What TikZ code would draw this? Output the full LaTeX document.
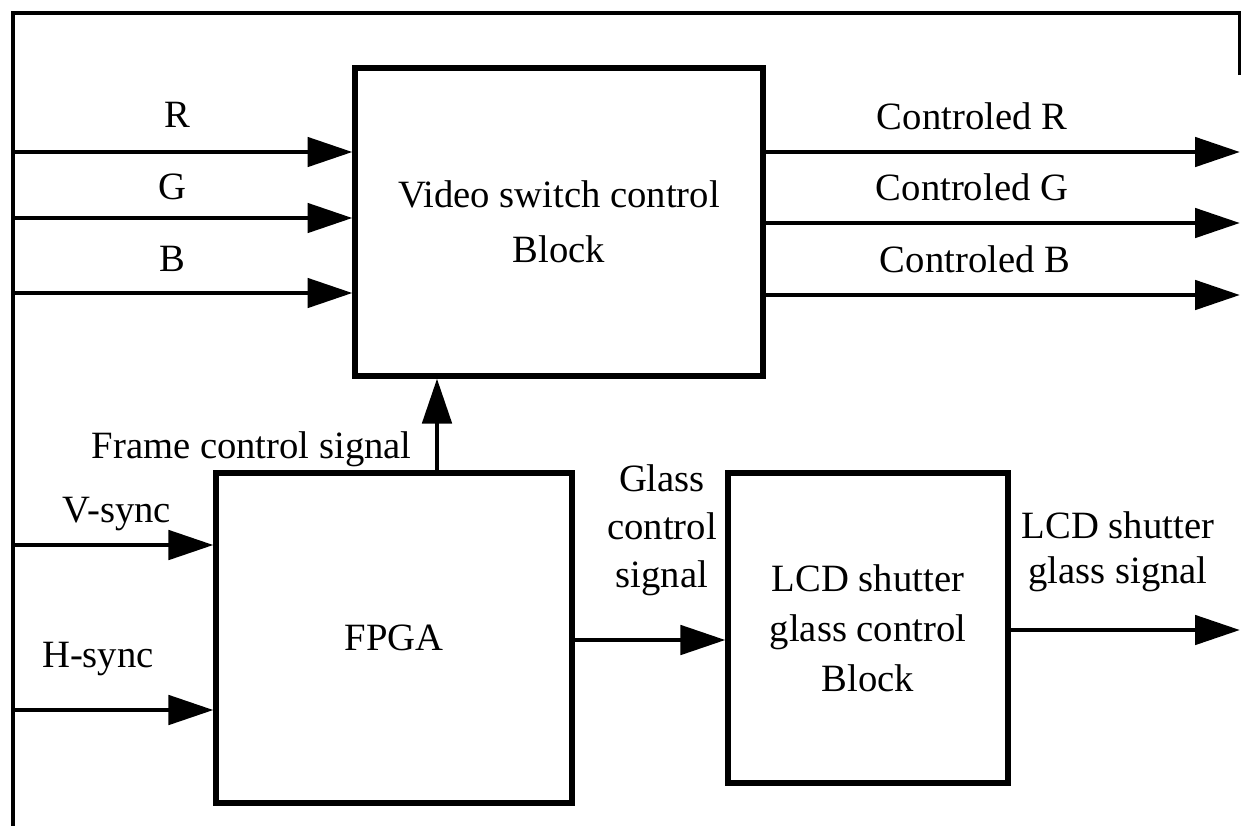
\documentclass[tikz,border=0pt]{standalone}
\usepackage{fontspec}
\setmainfont{Liberation Serif}
\usetikzlibrary{arrows.meta}
\begin{document}
\begin{tikzpicture}[x=0.02cm,y=-0.02cm,
  wire/.style={line width=2.8pt},
  sig/.style={wire,-{Triangle[length=0.9cm,width=0.58cm]}},
  blockbox/.style={draw,line width=2.9pt,inner sep=0pt,align=center},
  lbl/.style={inner sep=0pt,font=\fontsize{22}{26}\selectfont}]
\useasboundingbox (0,0) rectangle (1241,826);

% processing blocks
\node[blockbox,minimum width=8.16cm,minimum height=6.16cm,
      font=\fontsize{22}{31}\selectfont] (vs) at (559,222) {Video switch control\\Block};
\node[blockbox,minimum width=7.12cm,minimum height=6.6cm,
      font=\fontsize{22}{26}\selectfont] (fpga) at (394,638) {FPGA};
\node[blockbox,minimum width=5.6cm,minimum height=6.2cm,
      font=\fontsize{22}{28.5}\selectfont] (lcd) at (868,628) {LCD shutter\\glass control\\Block};

% outer frame
\coordinate (tl) at (13,13);
\coordinate (tr) at (1240,13);
\coordinate (rb) at (1240,75);
\coordinate (bl) at (13,826);
\draw[wire] (rb) -- (tr) -- (tl) -- (bl);

% video inputs
\coordinate (rin) at (13,152);
\coordinate (gin) at (13,218);
\coordinate (bin) at (13,293);
\draw[sig] (rin) -- (rin -| vs.west);
\draw[sig] (gin) -- (gin -| vs.west);
\draw[sig] (bin) -- (bin -| vs.west);

% video outputs
\coordinate (rout) at (1240,152);
\coordinate (gout) at (1240,223);
\coordinate (bout) at (1240,295);
\draw[sig] (vs.east |- rout) -- (rout);
\draw[sig] (vs.east |- gout) -- (gout);
\draw[sig] (vs.east |- bout) -- (bout);

% sync inputs
\coordinate (vin) at (13,545);
\coordinate (hin) at (13,710);
\draw[sig] (vin) -- (vin -| fpga.west);
\draw[sig] (hin) -- (hin -| fpga.west);

% control paths
\coordinate (fc) at (437,473);
\draw[sig] (fpga.north -| fc) -- (vs.south -| fc);
\coordinate (gl) at (573,640);
\draw[sig] (fpga.east |- gl) -- (lcd.west |- gl);
\coordinate (lo) at (1240,630);
\draw[sig] (lcd.east |- lo) -- (lo);

% signal labels
\node[lbl,anchor=base] (lR) at (177,127) {R};
\node[lbl,anchor=base] (lG) at (172,199) {G};
\node[lbl,anchor=base] (lB) at (172,271) {B};
\node[lbl,anchor=base] (lCR) at (972,129) {Controled R};
\node[lbl,anchor=base] (lCG) at (972,200) {Controled G};
\node[lbl,anchor=base] (lCB) at (975,272) {Controled B};
\node[lbl,anchor=base east] (lFC) at (412,458) {Frame control signal};
\node[lbl,anchor=base] (lV) at (117,522) {V-sync};
\node[lbl,anchor=base] (lH) at (98,667) {H-sync};
\node[lbl,anchor=north,align=center,font=\fontsize{22}{27.3}\selectfont] (lGC) at (662,464) {Glass\\control\\signal};
\node[lbl,anchor=north,align=center,font=\fontsize{22}{26}\selectfont] (lLS) at (1118,511) {LCD shutter\\glass signal};
\end{tikzpicture}
\end{document}
